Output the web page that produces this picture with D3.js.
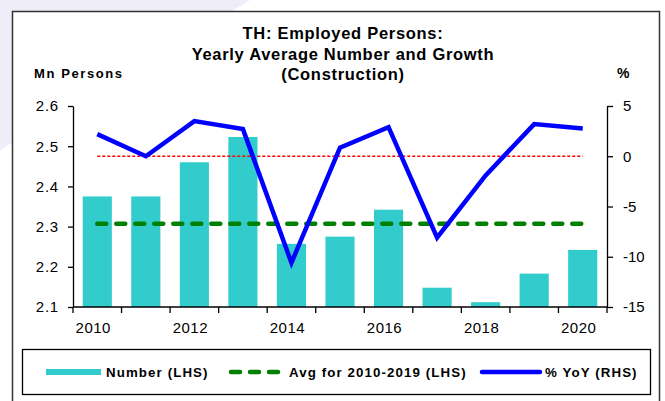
<!DOCTYPE html>
<html>
<head>
<meta charset="utf-8">
<script src="https://cdn.jsdelivr.net/npm/d3@7"></script>
<style>
	body { margin: 0; background: #fff; }
	svg { display: block; font-family: "Liberation Sans", Arial, sans-serif; }
</style>
</head>
<body>
<svg id="chart" width="665" height="401"></svg>
<script>
// data
const years = [2010, 2011, 2012, 2013, 2014, 2015, 2016, 2017, 2018, 2019, 2020];
const employed = [2.375, 2.375, 2.46, 2.523, 2.257, 2.275, 2.342, 2.148, 2.112, 2.183, 2.242];
const yoy = [2.2, 0.0, 3.5, 2.7, -10.6, 0.85, 2.9, -8.1, -1.9, 3.2, 2.75];
const avg2010to2019 = 2.307;
const leftTicks = [2.1, 2.2, 2.3, 2.4, 2.5, 2.6];
const rightTicks = [-15, -10, -5, 0, 5];
const yearLabels = [2010, 2012, 2014, 2016, 2018, 2020];
const titleLines = ["TH: Employed Persons:", "Yearly Average Number and Growth", "(Construction)"];
const legendItems = ["Number (LHS)", "Avg for 2010-2019 (LHS)", "% YoY (RHS)"];

const svg = d3.select("#chart");
const plotL = 73, plotR = 607, plotT = 106, plotB = 307;

// faint background shape top-left
svg.append("path")
	.attr("d", "M0,0 L250,0 L0,150 Z")
	.attr("fill", "#eeedf8");

// frame
svg.append("path")
	.attr("d", "M12.5,401 L12.5,11.5 L659.5,11.5 L659.5,401")
	.attr("fill", "#fff")
	.attr("stroke", "#333")
	.attr("stroke-width", 1.5);

const x = d3.scaleBand()
	.domain(years)
	.range([plotL, plotR])
	.paddingInner(0.4)
	.paddingOuter(0.2);
const yL = d3.scaleLinear().domain([2.1, 2.6]).range([plotB, plotT]);
const yR = d3.scaleLinear().domain([-15, 5]).range([plotB, plotT]);
const cx = d => x(d) + x.bandwidth() / 2;

// title
svg.append("g").selectAll("text")
	.data(titleLines)
	.enter()
	.append("text")
	.attr("x", 343)
	.attr("y", (d, i) => 39 + i * 20.5)
	.attr("text-anchor", "middle")
	.attr("font-size", 16.5)
	.attr("font-weight", "bold")
	.attr("letter-spacing", 0.7)
	.text(d => d);

svg.append("text").attr("x", 34).attr("y", 78)
	.attr("font-size", 13).attr("font-weight", "bold").attr("letter-spacing", 1.6)
	.text("Mn Persons");
svg.append("text").attr("x", 617).attr("y", 78)
	.attr("font-size", 14).attr("font-weight", "bold")
	.text("%");

// bars
svg.append("g").selectAll("rect")
	.data(years)
	.enter()
	.append("rect")
	.attr("x", d => x(d))
	.attr("width", x.bandwidth())
	.attr("y", (d, i) => yL(employed[i]))
	.attr("height", (d, i) => plotB - yL(employed[i]))
	.attr("fill", "#33cccc");

// zero reference line (RHS)
svg.append("line")
	.attr("x1", cx(years[0])).attr("x2", cx(years[years.length - 1]))
	.attr("y1", yR(0)).attr("y2", yR(0))
	.attr("stroke", "#ff0000").attr("stroke-width", 1.3)
	.attr("stroke-dasharray", "3,2");

// average line (LHS)
svg.append("line")
	.attr("x1", cx(years[0])).attr("x2", cx(years[years.length - 1]))
	.attr("y1", yL(avg2010to2019)).attr("y2", yL(avg2010to2019))
	.attr("stroke", "#008000").attr("stroke-width", 4.5)
	.attr("stroke-linecap", "round")
	.attr("stroke-dasharray", "9,10");

// yoy line
const line = d3.line()
	.x((d, i) => cx(years[i]))
	.y(d => yR(d));
svg.append("path")
	.datum(yoy)
	.attr("d", line)
	.attr("fill", "none")
	.attr("stroke", "#0000ff")
	.attr("stroke-width", 4.5)
	.attr("stroke-linejoin", "miter");

// axes
const axisStyle = g => {
	g.select(".domain").attr("stroke", "#000").attr("stroke-width", 1.3);
	g.selectAll(".tick line").attr("stroke", "#000").attr("stroke-width", 1.3);
	g.selectAll(".tick text").attr("fill", "#000").attr("font-size", 15)
		.attr("font-family", "Liberation Sans, Arial, sans-serif");
};

svg.append("g")
	.attr("transform", `translate(${plotL},0)`)
	.call(d3.axisLeft(yL).tickValues(leftTicks).tickSize(5).tickSizeOuter(0).tickPadding(9)
		.tickFormat(d3.format(".1f")))
	.call(axisStyle)
	.call(g => g.selectAll(".tick text").attr("letter-spacing", 0.8));

svg.append("g")
	.attr("transform", `translate(${plotR},0)`)
	.call(d3.axisRight(yR).tickValues(rightTicks).tickSize(6).tickSizeOuter(0).tickPadding(10)
		.tickFormat(d3.format("d")))
	.call(axisStyle)
	.call(g => g.selectAll(".tick text").text(d => d < 0 ? "-" + Math.abs(d) : d));

// x axis: ticks at band boundaries, labels every other year
const xb = d3.scaleLinear().domain([0, years.length]).range([plotL, plotR]);
const xAxis = svg.append("g").attr("transform", `translate(0,${plotB})`);
xAxis.append("line")
	.attr("x1", plotL).attr("x2", plotR)
	.attr("stroke", "#000").attr("stroke-width", 1.3);
xAxis.selectAll(".xt")
	.data(d3.range(years.length + 1))
	.enter()
	.append("line")
	.attr("x1", d => xb(d)).attr("x2", d => xb(d))
	.attr("y1", 0).attr("y2", 6)
	.attr("stroke", "#000").attr("stroke-width", 1.3);
xAxis.selectAll("text")
	.data(yearLabels)
	.enter()
	.append("text")
	.attr("x", d => cx(d) - 4)
	.attr("y", 26)
	.attr("text-anchor", "middle")
	.attr("font-size", 15)
	.attr("letter-spacing", 0.5)
	.text(d => d);

// legend
const legend = svg.append("g");
legend.append("rect")
	.attr("x", 22.5).attr("y", 349.5).attr("width", 628).attr("height", 45)
	.attr("fill", "#fff").attr("stroke", "#000").attr("stroke-width", 1.3);

const ly = 372;
legend.append("line").attr("x1", 46).attr("x2", 101).attr("y1", ly).attr("y2", ly)
	.attr("stroke", "#33cccc").attr("stroke-width", 6);
legend.append("line").attr("x1", 231).attr("x2", 280).attr("y1", ly).attr("y2", ly)
	.attr("stroke", "#008000").attr("stroke-width", 4.5).attr("stroke-linecap", "round")
	.attr("stroke-dasharray", "9,10");
legend.append("line").attr("x1", 482).attr("x2", 540).attr("y1", ly).attr("y2", ly)
	.attr("stroke", "#0000ff").attr("stroke-width", 4.5).attr("stroke-linecap", "round");

const legendX = [106, 289, 545];
legend.selectAll("text")
	.data(legendItems)
	.enter()
	.append("text")
	.attr("x", (d, i) => legendX[i])
	.attr("y", ly + 5)
	.attr("font-size", 13.3)
	.attr("font-weight", "bold")
	.attr("letter-spacing", 1.1)
	.text(d => d);
</script>
</body>
</html>
